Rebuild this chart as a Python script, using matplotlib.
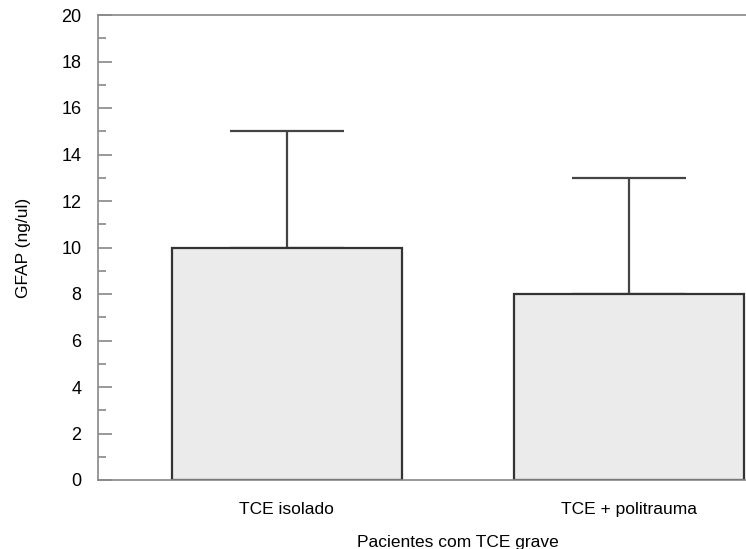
import matplotlib
matplotlib.use("Agg")
import matplotlib.pyplot as plt
from matplotlib.ticker import MultipleLocator

plt.rcParams['font.family'] = ['Liberation Sans', 'DejaVu Sans']

categories = ["TCE isolado", "TCE + politrauma"]
means = [10, 8]
upper_err = [5, 5]

W, H = 746, 549
fig = plt.figure(figsize=(W/100, H/100), dpi=100)
left, right, top, bottom = 98, 818, 15, 480
ax = fig.add_axes([left/W, 1-bottom/H, (right-left)/W, (bottom-top)/H])

x = list(range(len(categories)))
ax.bar(x, means, width=0.67, color='#ebebeb', edgecolor='#333333', linewidth=1.6, zorder=2)
ax.errorbar(x, means, yerr=[[0]*len(means), upper_err], fmt='none', ecolor='#444444',
            elinewidth=1.6, capsize=41, capthick=1.6, zorder=1)

ax.set_xlim(-0.552, 1.552)
ax.set_ylim(0, 20)
ax.yaxis.set_major_locator(MultipleLocator(2))
ax.yaxis.set_minor_locator(MultipleLocator(1))
ax.set_xticks(x)
ax.set_xticklabels(categories, fontsize=12.5)
ax.tick_params(axis='y', which='major', direction='in', length=10, width=1.2, color='#888888', labelsize=13, pad=12)
ax.tick_params(axis='y', which='minor', direction='in', length=6, width=1.2, color='#888888')
ax.tick_params(axis='x', length=0, pad=16)
for s in ax.spines.values():
    s.set_color('#888888')
    s.set_linewidth(1.2)

ax.set_ylabel("GFAP (ng/ul)", fontsize=12.5, labelpad=22)
ax.set_xlabel("Pacientes com TCE grave", fontsize=12.5, labelpad=13)

fig.savefig("out.png", dpi=100)
